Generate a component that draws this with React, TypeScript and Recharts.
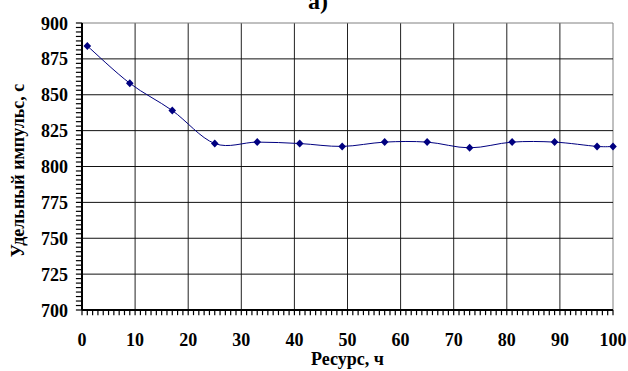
import React from 'react';
import { LineChart, Line, XAxis, YAxis, ReferenceLine } from 'recharts';

// resource hours and specific impulse
const resurs = [1, 9, 17, 25, 33, 41, 49, 57, 65, 73, 81, 89, 97, 100];
const impulse = [884, 858, 839, 816, 817, 816, 814, 817, 817, 813, 817, 817, 814, 814];

const xMajor = [0, 10, 20, 30, 40, 50, 60, 70, 80, 90, 100];
const yMajor = [700, 725, 750, 775, 800, 825, 850, 875, 900];
// minor ticks: every 1 h on x, 8 subdivisions per 25 s on y
const xMinor = Array.from({ length: 101 }, (_, i) => i);
const yMinor = Array.from({ length: 65 }, (_, i) => 700 + i * 3.125);

const data = resurs.map((r, i) => ({ resurs: r, impulse: impulse[i] }));

const FONT = 'Liberation Serif';
// tick mark lengths in data units (about 5 px down, 6 px left)
const X_TICK_LEN = 3.6;
const Y_TICK_LEN = 1.15;

// Excel-like smoothed line (Catmull-Rom through the points)
const excelSmooth = (context: any) => {
    let pts: number[][] = [];
    return {
        areaStart() {},
        areaEnd() {},
        lineStart() {
            pts = [];
        },
        lineEnd() {
            if (!pts.length) return;
            context.moveTo(pts[0][0], pts[0][1]);
            for (let i = 0; i < pts.length - 1; i++) {
                const p0 = pts[Math.max(i - 1, 0)];
                const p1 = pts[i];
                const p2 = pts[i + 1];
                const p3 = pts[Math.min(i + 2, pts.length - 1)];
                context.bezierCurveTo(
                    p1[0] + (p2[0] - p0[0]) / 6,
                    p1[1] + (p2[1] - p0[1]) / 6,
                    p2[0] - (p3[0] - p1[0]) / 6,
                    p2[1] - (p3[1] - p1[1]) / 6,
                    p2[0],
                    p2[1]
                );
            }
        },
        point(x: number, y: number) {
            pts.push([+x, +y]);
        },
    };
};

const XTick = ({ x, y, payload }: any) => {
    if (!xMajor.includes(payload.value)) return null;
    return (
        <text x={x} y={y} dy={23} textAnchor="middle" fontFamily={FONT} fontWeight="bold" fontSize={18} fill="#000">
            {payload.value}
        </text>
    );
};

const YTick = ({ x, y, payload }: any) => {
    if (!yMajor.includes(payload.value)) return null;
    return (
        <text x={x} y={y} dy={6.5} textAnchor="end" fontFamily={FONT} fontWeight="bold" fontSize={18} fill="#000">
            {payload.value}
        </text>
    );
};

const Diamond = ({ cx, cy, index }: any) => (
    <polygon
        key={`d-${index}`}
        points={`${cx},${cy - 4} ${cx + 3.8},${cy} ${cx},${cy + 4} ${cx - 3.8},${cy}`}
        fill="#000080"
    />
);

const YTitle = ({ viewBox }: any) => {
    const cx = 18;
    const cy = viewBox.y + viewBox.height / 2 + 4;
    return (
        <text
            x={cx}
            y={cy}
            transform={`rotate(-90, ${cx}, ${cy})`}
            textAnchor="middle"
            dominantBaseline="central"
            fontFamily={FONT}
            fontWeight="bold"
            fontSize={18}
            fill="#000"
        >
            Удельный импульс, с
        </text>
    );
};

const XTitle = ({ viewBox }: any) => (
    <text
        x={viewBox.x + viewBox.width / 2}
        y={viewBox.y + 55}
        textAnchor="middle"
        fontFamily={FONT}
        fontWeight="bold"
        fontSize={18}
        fill="#000"
    >
        Ресурс, ч
    </text>
);

export default function App() {
    return (
        <div style={{ position: 'absolute', left: 0, top: 0, width: 628, height: 371, background: '#fff', overflow: 'hidden' }}>
            <div
                style={{
                    position: 'absolute',
                    left: 298,
                    top: -11,
                    width: 40,
                    textAlign: 'center',
                    fontFamily: FONT,
                    fontWeight: 'bold',
                    fontSize: 24,
                    lineHeight: '24px',
                }}
            >
                а)
            </div>
            <LineChart width={628} height={371} data={data} margin={{ top: 23, right: 15, left: 0, bottom: 0 }}>
                <XAxis
                    dataKey="resurs"
                    type="number"
                    domain={[0, 100]}
                    ticks={xMajor}
                    interval={0}
                    tick={<XTick />}
                    tickSize={5}
                    tickMargin={8}
                    tickLine={false}
                    height={61}
                    axisLine={{ stroke: '#000', strokeWidth: 2 }}
                    label={<XTitle />}
                />
                <YAxis
                    type="number"
                    domain={[700, 900]}
                    ticks={yMajor}
                    interval={0}
                    tick={<YTick />}
                    tickSize={6}
                    tickMargin={8}
                    tickLine={false}
                    width={82}
                    axisLine={{ stroke: '#000', strokeWidth: 2 }}
                    label={<YTitle />}
                />
                {xMajor.slice(1).map((v) => (
                    <ReferenceLine key={`gx-${v}`} x={v} stroke={v === 100 ? '#808080' : '#222'} strokeWidth={1} />
                ))}
                {yMajor.slice(1).map((v) => (
                    <ReferenceLine key={`gy-${v}`} y={v} stroke={v === 900 ? '#808080' : '#111'} strokeWidth={1} />
                ))}
                {xMinor.map((v) => (
                    <ReferenceLine
                        key={`tx-${v}`}
                        segment={[{ x: v, y: 700 }, { x: v, y: 700 - X_TICK_LEN }]}
                        ifOverflow="visible"
                        stroke="#000"
                        strokeWidth={1.2}
                    />
                ))}
                {yMinor.map((v) => (
                    <ReferenceLine
                        key={`ty-${v}`}
                        segment={[{ x: 0, y: v }, { x: -Y_TICK_LEN, y: v }]}
                        ifOverflow="visible"
                        stroke="#000"
                        strokeWidth={1.2}
                    />
                ))}
                <Line
                    dataKey="impulse"
                    type={excelSmooth as any}
                    stroke="#000080"
                    strokeWidth={1}
                    dot={<Diamond />}
                    activeDot={false}
                    isAnimationActive={false}
                />
            </LineChart>
        </div>
    );
}
